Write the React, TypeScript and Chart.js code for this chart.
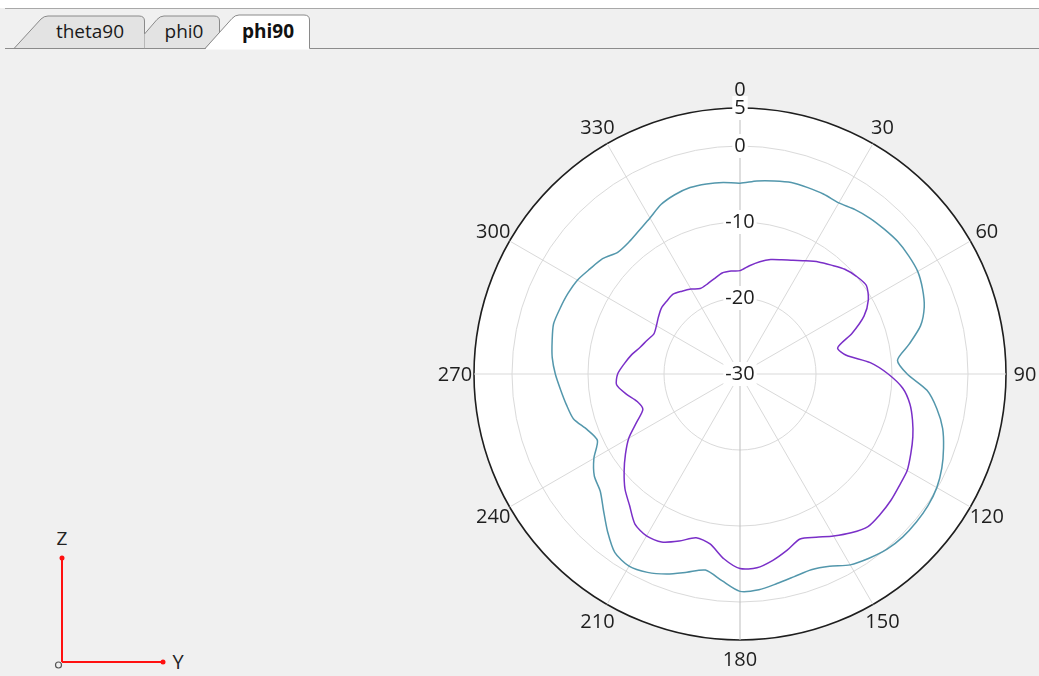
import React, { useEffect, useRef } from 'react';
import { Chart, registerables } from 'chart.js';

Chart.register(...registerables);

// Angle categories (degrees, clockwise from top)
const angles = [
  0, 5, 10, 15, 20, 25, 30, 35, 40, 45, 50, 55,
  60, 65, 70, 75, 80, 85, 90, 95, 100, 105, 110, 115,
  120, 125, 130, 135, 140, 145, 150, 155, 160, 165, 170, 175,
  180, 185, 190, 195, 200, 205, 210, 215, 220, 225, 230, 235,
  240, 245, 250, 255, 260, 265, 270, 275, 280, 285, 290, 295,
  300, 305, 310, 315, 320, 325, 330, 335, 340, 345, 350, 355,
];

// Outer (teal) trace, dB
const tealSeries = [
  -4.9, -4.5, -4.2, -3.9, -3.9, -3.9, -4.0, -3.6, -3.3, -3.1, -2.9, -2.9,
  -3.0, -3.5, -4.2, -5.4, -7.4, -9.2, -8.0, -5.3, -3.7, -2.4, -1.5, -0.7,
  -0.1, 0.2, 0.3, 0.3, 0.1, -0.4, -1.0, -2.1, -2.6, -2.4, -2.0, -1.5,
  -1.4, -2.7, -3.8, -3.0, -2.0, -1.2, -0.8, -1.3, -2.9, -4.6, -6.0, -6.6,
  -7.8, -9.3, -8.6, -7.3, -6.8, -6.3, -5.7, -5.2, -4.9, -4.6, -4.8, -5.0,
  -5.3, -5.9, -6.4, -7.3, -7.3, -6.9, -6.3, -5.4, -4.9, -4.6, -4.6, -4.7,
];

// Inner (purple) trace, dB
const purpleSeries = [
  -16.4, -15.7, -15.0, -14.4, -14.0, -13.5, -12.8, -12.0, -11.3, -10.5, -10.0, -9.7,
  -10.5, -12.0, -14.3, -16.7, -15.8, -12.8, -10.5, -8.5, -7.3, -6.5, -5.8, -5.2,
  -4.6, -4.4, -4.1, -3.9, -3.8, -4.5, -5.4, -6.3, -6.9, -6.0, -5.1, -4.4,
  -4.4, -5.6, -7.3, -7.7, -6.6, -5.6, -5.4, -5.9, -7.4, -8.6, -10.1, -11.6,
  -13.1, -15.0, -16.4, -16.0, -14.8, -13.7, -13.9, -14.7, -15.5, -16.4, -17.0, -17.5,
  -17.3, -16.9, -16.5, -16.4, -16.3, -16.7, -17.1, -17.6, -17.4, -17.0, -16.5, -16.4,
];

const radialTicks = [-30, -20, -10, 0, 5];
const labelStep = 30;
const tabLabels = ['theta90', 'phi0', 'phi90'];
const axisNames = ['Z', 'Y'];

const FONT = "'Open Sans', 'DejaVu Sans', sans-serif";

// Draws the angle labels centred just outside the outer ring, using the scale's own geometry
const angleLabelPlugin = {
  id: 'angleLabels',
  afterDraw(chart: any) {
    const scale = chart.scales.r;
    const ctx = chart.ctx;
    ctx.save();
    ctx.font = `20px ${FONT}`;
    ctx.fillStyle = '#1e1e1e';
    ctx.textAlign = 'center';
    ctx.textBaseline = 'middle';
    angles.forEach((a, i) => {
      if (a % labelStep !== 0) return;
      const p = scale.getPointPosition(i, scale.drawingArea + 19);
      ctx.fillText(String(a), p.x, p.y + 1);
    });
    ctx.restore();
  },
};

function PolarChart() {
  const ref = useRef<HTMLCanvasElement | null>(null);
  useEffect(() => {
    if (!ref.current) return;
    const chart = new Chart(ref.current, {
      type: 'radar',
      data: {
        labels: angles.map(String),
        datasets: [
          {
            label: 'outer',
            data: tealSeries,
            borderColor: '#5397ac',
            borderWidth: 1.5,
            pointRadius: 0,
            fill: false,
            tension: 0.25,
          },
          {
            label: 'inner',
            data: purpleSeries,
            borderColor: '#7a2fc8',
            borderWidth: 1.5,
            pointRadius: 0,
            fill: false,
            tension: 0.25,
          },
        ],
      },
      options: {
        animation: false,
        responsive: false,
        maintainAspectRatio: false,
        layout: { padding: { left: 72, right: 72, top: 36, bottom: 24 } },
        plugins: { legend: { display: false }, tooltip: { enabled: false } },
        scales: {
          r: {
            min: radialTicks[0],
            max: radialTicks[radialTicks.length - 1],
            backgroundColor: '#ffffff',
            afterBuildTicks: (axis: any) => {
              axis.ticks = radialTicks.map((v) => ({ value: v }));
            },
            grid: {
              circular: true,
              color: (ctx: any) => (ctx.index === radialTicks.length - 1 ? '#1e1e1e' : '#dadada'),
              lineWidth: (ctx: any) => (ctx.index === radialTicks.length - 1 ? 1.6 : 1),
            },
            angleLines: {
              display: true,
              color: (ctx: any) => (ctx.index % 36 === 0 ? '#bdbdbd' : '#d9d9d9'),
              lineWidth: (ctx: any) => (ctx.index % (labelStep / 5) === 0 ? 1 : 0),
            },
            ticks: {
              font: { family: FONT, size: 20 },
              color: '#1e1e1e',
              backdropColor: '#ffffff',
              backdropPadding: 2,
              showLabelBackdrop: true,
              callback: (v: any) => String(v),
            },
            pointLabels: { display: false },
          },
        },
      },
      plugins: [angleLabelPlugin],
    } as any);
    return () => chart.destroy();
  }, []);
  return (
    <canvas
      ref={ref}
      width={700}
      height={616}
      style={{ position: 'absolute', left: 390, top: 60, width: 700, height: 616 }}
    />
  );
}

export default function App() {
  return (
    <div
      style={{
        position: 'fixed',
        left: 0,
        top: 0,
        width: 1039,
        height: 676,
        background: '#f0f0f0',
        overflow: 'hidden',
        fontFamily: FONT,
      }}
    >
      <svg width={1039} height={676} style={{ position: 'absolute', left: 0, top: 0 }}>
        <rect x={0} y={0} width={1039} height={8} fill="#ffffff" />
        <line x1={5} y1={8.5} x2={1039} y2={8.5} stroke="#a8a8a8" strokeWidth={1} />
        {/* tab strip bottom line */}
        <line x1={5} y1={48.5} x2={206} y2={48.5} stroke="#8c8c8c" strokeWidth={1} />
        <line x1={309} y1={48.5} x2={1039} y2={48.5} stroke="#8c8c8c" strokeWidth={1} />
        {/* theta90 tab */}
        <path d="M14,48.5 L41,19 Q44,16 48,16 L139,16 Q144.5,16 144.5,21 L144.5,48.5 Z" fill="#e3e3e3" stroke="#8a8a8a" strokeWidth={1} />
        {/* phi0 tab */}
        <path d="M144.5,48 L144.5,34 L157,19.5 Q160,16 164,16 L214,16 Q219.5,16 219.5,21 L219.5,48 Z" fill="#e3e3e3" />
        <path d="M144.5,34 L157,19.5 Q160,16 164,16 L214,16 Q219.5,16 219.5,21 L219.5,48" fill="none" stroke="#8a8a8a" strokeWidth={1} />
        {/* phi90 active tab */}
        <path d="M205,49.5 L232,18.5 Q235,15 239,15 L304,15 Q309.5,15 309.5,20 L309.5,49.5 Z" fill="#ffffff" />
        <path d="M205,48.5 L232,18.5 Q235,15 239,15 L304,15 Q309.5,15 309.5,20 L309.5,48.5" fill="none" stroke="#8a8a8a" strokeWidth={1} />
        <text x={90} y={38} textAnchor="middle" fontSize={19} fill="#1a1a1a" fontFamily={FONT}>{tabLabels[0]}</text>
        <text x={184} y={38} textAnchor="middle" fontSize={19} fill="#1a1a1a" fontFamily={FONT}>{tabLabels[1]}</text>
        <text x={268} y={38} textAnchor="middle" fontSize={19} fontWeight="bold" fill="#111111" fontFamily={FONT}>{tabLabels[2]}</text>
        {/* axis triad */}
        <line x1={62} y1={558} x2={62} y2={662} stroke="#ff1010" strokeWidth={2} />
        <line x1={62} y1={662} x2={163} y2={662} stroke="#ff1010" strokeWidth={2} />
        <circle cx={62} cy={558} r={2.5} fill="#ff1010" />
        <circle cx={163} cy={662} r={2.5} fill="#ff1010" />
        <circle cx={58.5} cy={665} r={3} fill="none" stroke="#555555" strokeWidth={1.2} />
        <text x={62} y={545} textAnchor="middle" fontSize={19} fill="#222222" fontFamily={FONT}>{axisNames[0]}</text>
        <text x={178} y={669} textAnchor="middle" fontSize={20} fill="#222222" fontFamily={FONT}>{axisNames[1]}</text>
      </svg>
      <PolarChart />
    </div>
  );
}
